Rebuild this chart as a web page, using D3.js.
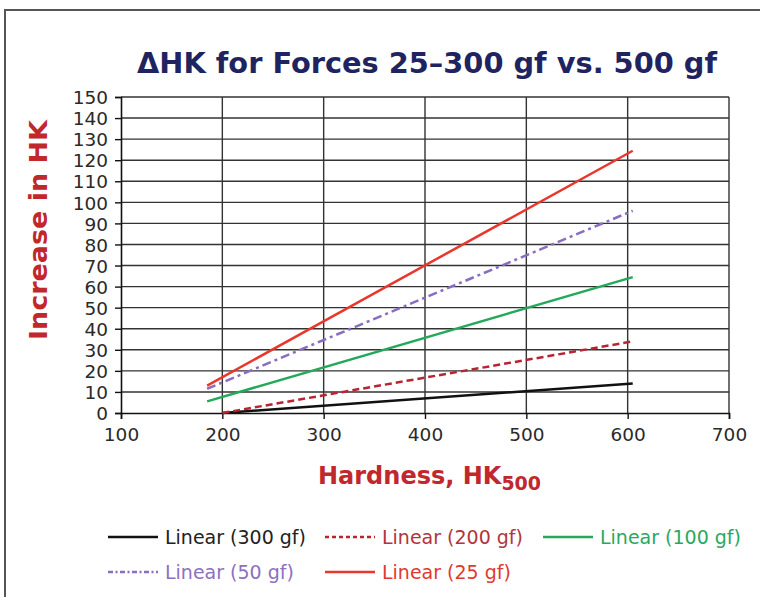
<!DOCTYPE html>
<html><head><meta charset="utf-8">
<script src="https://cdn.jsdelivr.net/npm/d3@7"></script>
<style>body{margin:0;background:#fff}svg{display:block}</style>
</head><body>
<svg id="c" width="760" height="597"></svg>
<script>
const seriesNames = ["Linear (300 gf)", "Linear (200 gf)", "Linear (100 gf)", "Linear (50 gf)", "Linear (25 gf)"];
const xStart = [200, 200, 185, 185, 185];
const xEnd   = [605, 605, 605, 605, 605];
const yStart = [0, 0, 5.5, 11.5, 13];
const yEnd   = [14, 34, 64.5, 96, 124.5];
const xTicks = [100, 200, 300, 400, 500, 600, 700];
const yTicks = d3.range(0, 151, 10);

const lineColors = ["#111111", "#b82532", "#24a85a", "#8a6cc2", "#e8372c"];
const textColors = ["#222222", "#b3343c", "#2aa860", "#8d70c0", "#e03a30"];
const dashes = [null, "7,4", null, "9,4,3,4", null];
const legendDashes = [null, "4,3", null, "5,2.5,2,2.5", null];

const svg = d3.select("#c");
const font = "'DejaVu Sans', Verdana, sans-serif";

// outer frame
svg.append("path").attr("d", "M5,600 L5,10 L770,10").attr("fill", "none")
  .attr("stroke", "#555").attr("stroke-width", 2);

const L = 121, R = 729, T = 97, B = 413;
const x = d3.scaleLinear().domain([100, 700]).range([L, R]);
const y = d3.scaleLinear().domain([0, 150]).range([B, T]);

// grid
const g = svg.append("g");
g.selectAll(".hg").data(yTicks.filter(d => d > 0)).join("line")
  .attr("x1", L).attr("x2", R).attr("y1", d => y(d)).attr("y2", d => y(d))
  .attr("stroke", "#333").attr("stroke-width", 1.4);
g.selectAll(".vg").data(xTicks.filter(d => d > 100)).join("line")
  .attr("x1", d => x(d)).attr("x2", d => x(d)).attr("y1", T).attr("y2", B)
  .attr("stroke", "#333").attr("stroke-width", 1.4);

// axes
const xa = svg.append("g").attr("transform", `translate(0,${B})`)
  .call(d3.axisBottom(x).tickValues(xTicks).tickSize(6).tickPadding(9).tickFormat(d3.format("d")));
const ya = svg.append("g").attr("transform", `translate(${L},0)`)
  .call(d3.axisLeft(y).tickValues(yTicks).tickSize(6).tickPadding(7).tickFormat(d3.format("d")));
[xa, ya].forEach(a => {
  a.select(".domain").attr("stroke", "#111").attr("stroke-width", 1.6);
  a.selectAll(".tick line").attr("stroke", "#111").attr("stroke-width", 1.4);
  a.selectAll(".tick text").attr("fill", "#2a2a2a").style("font-family", font).style("font-size", "18.5px");
});
ya.selectAll(".tick text").attr("dy", "0.36em");

// lines
const lineGen = d3.line().x(d => x(d[0])).y(d => y(d[1]));
seriesNames.forEach((n, i) => {
  svg.append("path").datum([[xStart[i], yStart[i]], [xEnd[i], yEnd[i]]])
    .attr("d", lineGen).attr("fill", "none")
    .attr("stroke", lineColors[i]).attr("stroke-width", 2.5)
    .attr("stroke-dasharray", dashes[i]);
});

// title
svg.append("text").attr("x", 427).attr("y", 73).attr("text-anchor", "middle")
  .style("font-family", font).style("font-weight", "bold").style("font-size", "28px")
  .attr("fill", "#1f2461").attr("textLength", 580).attr("lengthAdjust", "spacingAndGlyphs")
  .text("ΔHK for Forces 25–300 gf vs. 500 gf");

// y label
svg.append("text").attr("transform", "translate(47,230) rotate(-90)").attr("text-anchor", "middle")
  .style("font-family", font).style("font-weight", "bold").style("font-size", "24px")
  .attr("fill", "#c1272d").attr("textLength", 220).attr("lengthAdjust", "spacingAndGlyphs")
  .text("Increase in HK");

// x label
const xl = svg.append("text").attr("x", 318).attr("y", 484)
  .style("font-family", font).style("font-weight", "bold").style("font-size", "24px")
  .attr("fill", "#c1272d");
xl.append("tspan").text("Hardness, HK");
xl.append("tspan").attr("dy", 6).style("font-size", "19px").text("500");

// legend
const legX = [108, 325, 543, 108, 325];
const legY = [537, 537, 537, 572, 572];
seriesNames.forEach((n, i) => {
  svg.append("line").attr("x1", legX[i]).attr("x2", legX[i] + 50)
    .attr("y1", legY[i]).attr("y2", legY[i])
    .attr("stroke", lineColors[i]).attr("stroke-width", 2.5)
    .attr("stroke-dasharray", legendDashes[i]);
  svg.append("text").attr("x", legX[i] + 57).attr("y", legY[i]).attr("dy", "0.36em")
    .style("font-family", font).style("font-size", "19px")
    .attr("fill", textColors[i]).text(n);
});
</script>
</body></html>
